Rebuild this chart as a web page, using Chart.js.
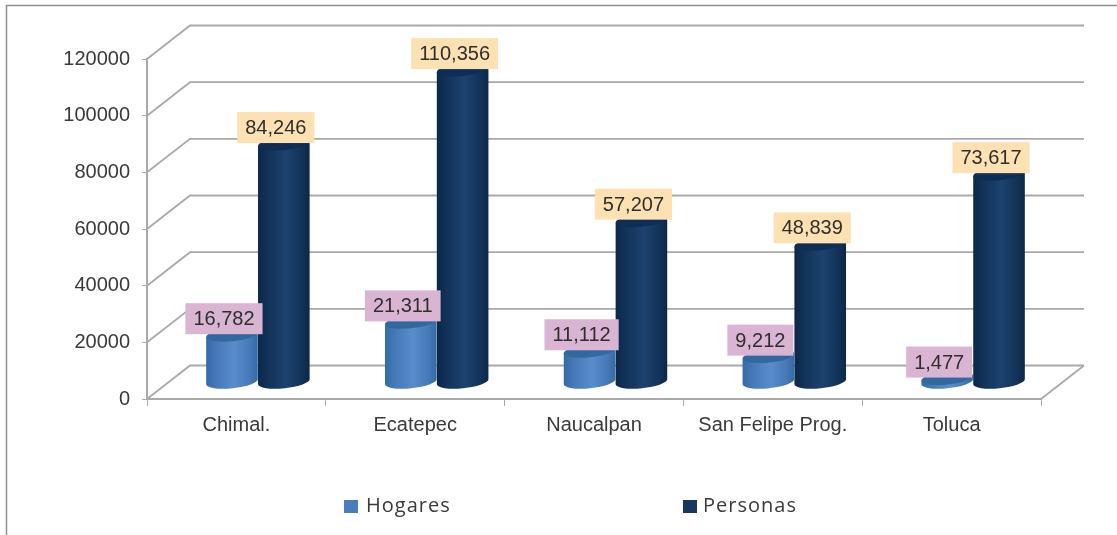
<!DOCTYPE html>
<html>
<head>
<meta charset="utf-8">
<title>Hogares y Personas</title>
<script src="https://cdn.jsdelivr.net/npm/chart.js@4"></script>
<style>
    html, body { margin: 0; padding: 0; background: #fff; overflow: hidden; }
    canvas { display: block; filter: blur(0.6px); }
</style>
</head>
<body>
<canvas id="chart" width="1117" height="535"></canvas>
<script>
// Values
const categories = ["Chimal.", "Ecatepec", "Naucalpan", "San Felipe Prog.", "Toluca"];
const hogares = [16782, 21311, 11112, 9212, 1477];
const personas = [84246, 110356, 57207, 48839, 73617];

// Depth of the fake 3D box, in pixels
const DEPTH_X = 43;
const DEPTH_Y = -33.5;
const GRID_COLOR = "#a9a9a9";
const TEXT_COLOR = "#3a3a3a";

// Outer frame, only top and left edges are in the picture
const framePlugin = {
    id: "frame",
    beforeDraw(chart) {
        const c = chart.ctx;
        c.save();
        c.strokeStyle = "#8f8f8f";
        c.lineWidth = 1.5;
        c.beginPath();
        c.moveTo(6.5, 535);
        c.lineTo(6.5, 5.5);
        c.lineTo(1117, 5.5);
        c.stroke();
        c.restore();
    }
};

// Back wall lines and side lines, taken from the y scale ticks
const wallPlugin = {
    id: "wall",
    beforeDatasetsDraw(chart) {
        const c = chart.ctx;
        const y = chart.scales.y;
        const a = chart.chartArea;
        c.save();
        c.strokeStyle = GRID_COLOR;
        c.lineWidth = 1.8;
        y.ticks.forEach(t => {
            const py = y.getPixelForValue(t.value);
            c.beginPath();
            c.moveTo(a.left, py);
            c.lineTo(a.left + DEPTH_X, py + DEPTH_Y);
            c.lineTo(a.right + DEPTH_X, py + DEPTH_Y);
            c.stroke();
        });
        c.beginPath();
        c.moveTo(a.right, a.bottom);
        c.lineTo(a.right + DEPTH_X, a.bottom + DEPTH_Y);
        c.stroke();
        c.restore();
    }
};

// Draws each bar as a cylinder standing in the middle of the depth.
// The ellipses lean a little, right side higher than the left.
function drawCylinder(c, x, top, base, w, colors) {
    const rx = w / 2;
    const ry = 6.5;
    const tilt = -0.1;
    const tipX = rx * Math.cos(tilt);
    const tipY = rx * Math.sin(tilt);
    const grad = c.createLinearGradient(x - rx, 0, x + rx, 0);
    grad.addColorStop(0, colors.edge);
    grad.addColorStop(0.18, colors.inner);
    grad.addColorStop(0.55, colors.mid);
    grad.addColorStop(0.85, colors.inner);
    grad.addColorStop(1, colors.edge);
    c.fillStyle = grad;
    c.beginPath();
    c.moveTo(x - tipX, top - tipY);
    c.lineTo(x - tipX, base - tipY);
    c.ellipse(x, base, rx, ry, tilt, Math.PI, 0, true);
    c.lineTo(x + tipX, top + tipY);
    c.closePath();
    c.fill();
    c.fillStyle = colors.cap;
    c.beginPath();
    c.ellipse(x, top, rx, ry, tilt, 0, Math.PI * 2);
    c.fill();
}

const cylinderColors = [
    { edge: "#346aa5", inner: "#4478b6", mid: "#5a8cca", cap: "#33689f" },
    { edge: "#0c2748", inner: "#123258", mid: "#1c426e", cap: "#0f2e55" }
];

const cylinderPlugin = {
    id: "cylinder",
    beforeDatasetDraw(chart, args) {
        const c = chart.ctx;
        const meta = chart.getDatasetMeta(args.index);
        meta.data.forEach(bar => {
            const p = bar.getProps(["x", "y", "base", "width"], true);
            drawCylinder(c, p.x + DEPTH_X / 2, p.y + DEPTH_Y / 2, p.base + DEPTH_Y / 2, p.width, cylinderColors[args.index]);
        });
        return false;
    }
};

// Value boxes over the bars
const labelColors = ["#d9b5d3", "#fde1b3"];
const labelPlugin = {
    id: "valueLabels",
    afterDatasetsDraw(chart) {
        const c = chart.ctx;
        c.save();
        c.font = "20px 'Liberation Sans'";
        c.textAlign = "center";
        c.textBaseline = "middle";
        chart.data.datasets.forEach((ds, i) => {
            chart.getDatasetMeta(i).data.forEach((bar, j) => {
                const text = ds.data[j].toLocaleString("en-US");
                const w = c.measureText(text).width + 16;
                const h = 31;
                const cx = bar.x + DEPTH_X / 2 - 8;
                const bottom = bar.y + DEPTH_Y / 2 - 0.5;
                c.fillStyle = labelColors[i];
                c.fillRect(cx - w / 2, bottom - h, w, h);
                c.fillStyle = "#2e2e2e";
                c.fillText(text, cx, bottom - h / 2 + 1);
            });
        });
        c.restore();
    }
};

// Legend is spread much wider than the built-in one allows
const legendX = [{ box: 344, text: 366 }, { box: 683, text: 703 }];
const legendPlugin = {
    id: "wideLegend",
    afterDraw(chart) {
        const c = chart.ctx;
        c.save();
        c.font = "20px 'Open Sans'";
        c.letterSpacing = "1px";
        c.textBaseline = "middle";
        chart.data.datasets.forEach((ds, i) => {
            c.fillStyle = ds.backgroundColor;
            c.fillRect(legendX[i].box, 500, 14, 13);
            c.fillStyle = TEXT_COLOR;
            c.fillText(ds.label, legendX[i].text, 506);
        });
        c.restore();
    }
};

new Chart(document.getElementById("chart"), {
    type: "bar",
    data: {
        labels: categories,
        datasets: [
            { label: "Hogares", data: hogares, backgroundColor: "#4a7ebb", categoryPercentage: 0.58, barPercentage: 1 },
            { label: "Personas", data: personas, backgroundColor: "#17375e", categoryPercentage: 0.58, barPercentage: 1 }
        ]
    },
    options: {
        responsive: false,
        animation: false,
        layout: { padding: { top: 59, right: 76, left: 0, bottom: 0 } },
        plugins: { legend: { display: false }, tooltip: { enabled: false } },
        scales: {
            x: {
                afterFit(scale) { scale.height = 136; },
                grid: { drawOnChartArea: false, color: GRID_COLOR, tickLength: 7 },
                border: { color: GRID_COLOR, width: 2 },
                ticks: { color: TEXT_COLOR, padding: 7, maxRotation: 0, autoSkip: false, font: { family: "'Liberation Sans'", size: 20 } }
            },
            y: {
                min: 0,
                max: 120000,
                afterFit(scale) { scale.width = 147; },
                grid: { drawOnChartArea: false, color: GRID_COLOR, tickLength: 5 },
                border: { color: GRID_COLOR, width: 2 },
                ticks: {
                    stepSize: 20000,
                    color: TEXT_COLOR,
                    padding: 12,
                    font: { family: "'Liberation Sans'", size: 20 },
                    callback: value => String(value)
                }
            }
        }
    },
    plugins: [framePlugin, wallPlugin, cylinderPlugin, labelPlugin, legendPlugin]
});
</script>
</body>
</html>
